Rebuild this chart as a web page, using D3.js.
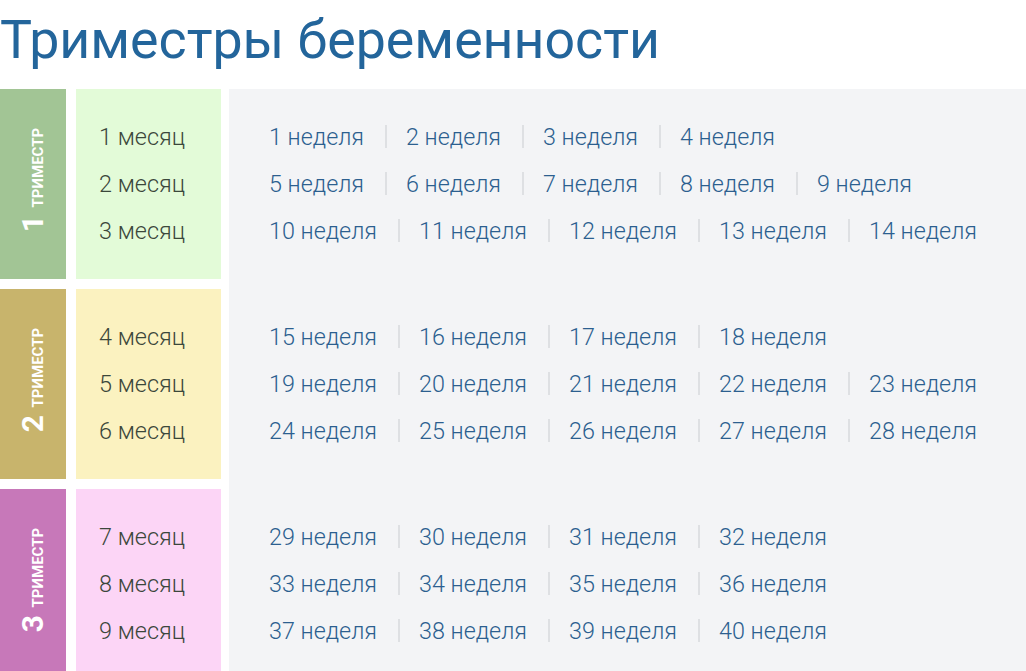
<!DOCTYPE html>
<html><head><meta charset="utf-8">
<script src="https://cdn.jsdelivr.net/npm/d3@7"></script>
<style>body{margin:0;background:#fff;}svg{display:block;}</style>
</head><body>
<svg id="chart" width="1026" height="671"></svg>
<script>
// data
const title = "Триместры беременности";
const trimesters = ["1", "2", "3"];
const months = ["1 месяц","2 месяц","3 месяц","4 месяц","5 месяц","6 месяц","7 месяц","8 месяц","9 месяц"];
// weeks per month row
const weeks = [[1,2,3,4],[5,6,7,8,9],[10,11,12,13,14],[15,16,17,18],[19,20,21,22,23],[24,25,26,27,28],[29,30,31,32],[33,34,35,36],[37,38,39,40]];
const darkColors = ["#a2c595","#c8b46c","#c778b9"];
const lightColors = ["#e3fbd8","#fbf2c0","#fcd5f6"];

const svg = d3.select("#chart");
const blockTop = d3.scaleLinear().domain([0, 1]).range([89, 289]);
const blockH = 190;

svg.append("text").attr("x", 0).attr("y", 58).text(title)
  .attr("font-family", "Roboto").attr("font-size", 54).attr("fill", "#23659b")
  .attr("textLength", 660).attr("lengthAdjust", "spacingAndGlyphs");

svg.append("rect").attr("x", 229).attr("y", 89).attr("width", 797).attr("height", 582).attr("fill", "#f3f4f6");

trimesters.forEach((t, i) => {
  const y0 = blockTop(i), h = blockH;
  svg.append("rect").attr("x", 0).attr("y", y0).attr("width", 66).attr("height", h).attr("fill", darkColors[i]);
  svg.append("rect").attr("x", 76).attr("y", y0).attr("width", 145).attr("height", h).attr("fill", lightColors[i]);
  const lab = svg.append("text").attr("transform", `translate(43,${y0 + 91}) rotate(-90)`)
    .attr("text-anchor", "middle").attr("fill", "#fff").attr("font-family", "Roboto").attr("font-weight", 700);
  lab.append("tspan").attr("font-size", 30).text(t + " ");
  lab.append("tspan").attr("font-size", 15).text("ТРИМЕСТР");

  const rowY = d3.scaleLinear().domain([0, 2]).range([y0 + 47, y0 + 141]);
  for (let r = 0; r < 3; r++) {
    const m = i * 3 + r, y = rowY(r) + 9;
    svg.append("text").attr("x", 99).attr("y", y).text(months[m])
      .attr("font-family", "Roboto").attr("font-weight", 300).attr("font-size", 24).attr("fill", "#3b473b")
      .attr("textLength", 86).attr("lengthAdjust", "spacingAndGlyphs");
    const step = weeks[m][0] >= 10 || m >= 2 ? 150 : 137;
    const xs = d3.scaleLinear().domain([0, 1]).range([269, 269 + step]);
    weeks[m].forEach((w, k) => {
      const label = w + " неделя";
      svg.append("text").attr("x", xs(k)).attr("y", y).text(label)
        .attr("font-family", "Roboto").attr("font-weight", 300).attr("font-size", 24).attr("fill", "#2c5f8f")
        .attr("textLength", w >= 10 ? 108 : 95).attr("lengthAdjust", "spacingAndGlyphs");
      if (k < weeks[m].length - 1) {
        svg.append("line").attr("x1", xs(k) + step - 20).attr("x2", xs(k) + step - 20)
          .attr("y1", y - 20).attr("y2", y + 3).attr("stroke", "#c9ccd0").attr("stroke-width", 1);
      }
    });
  }
});
</script>
</body></html>
